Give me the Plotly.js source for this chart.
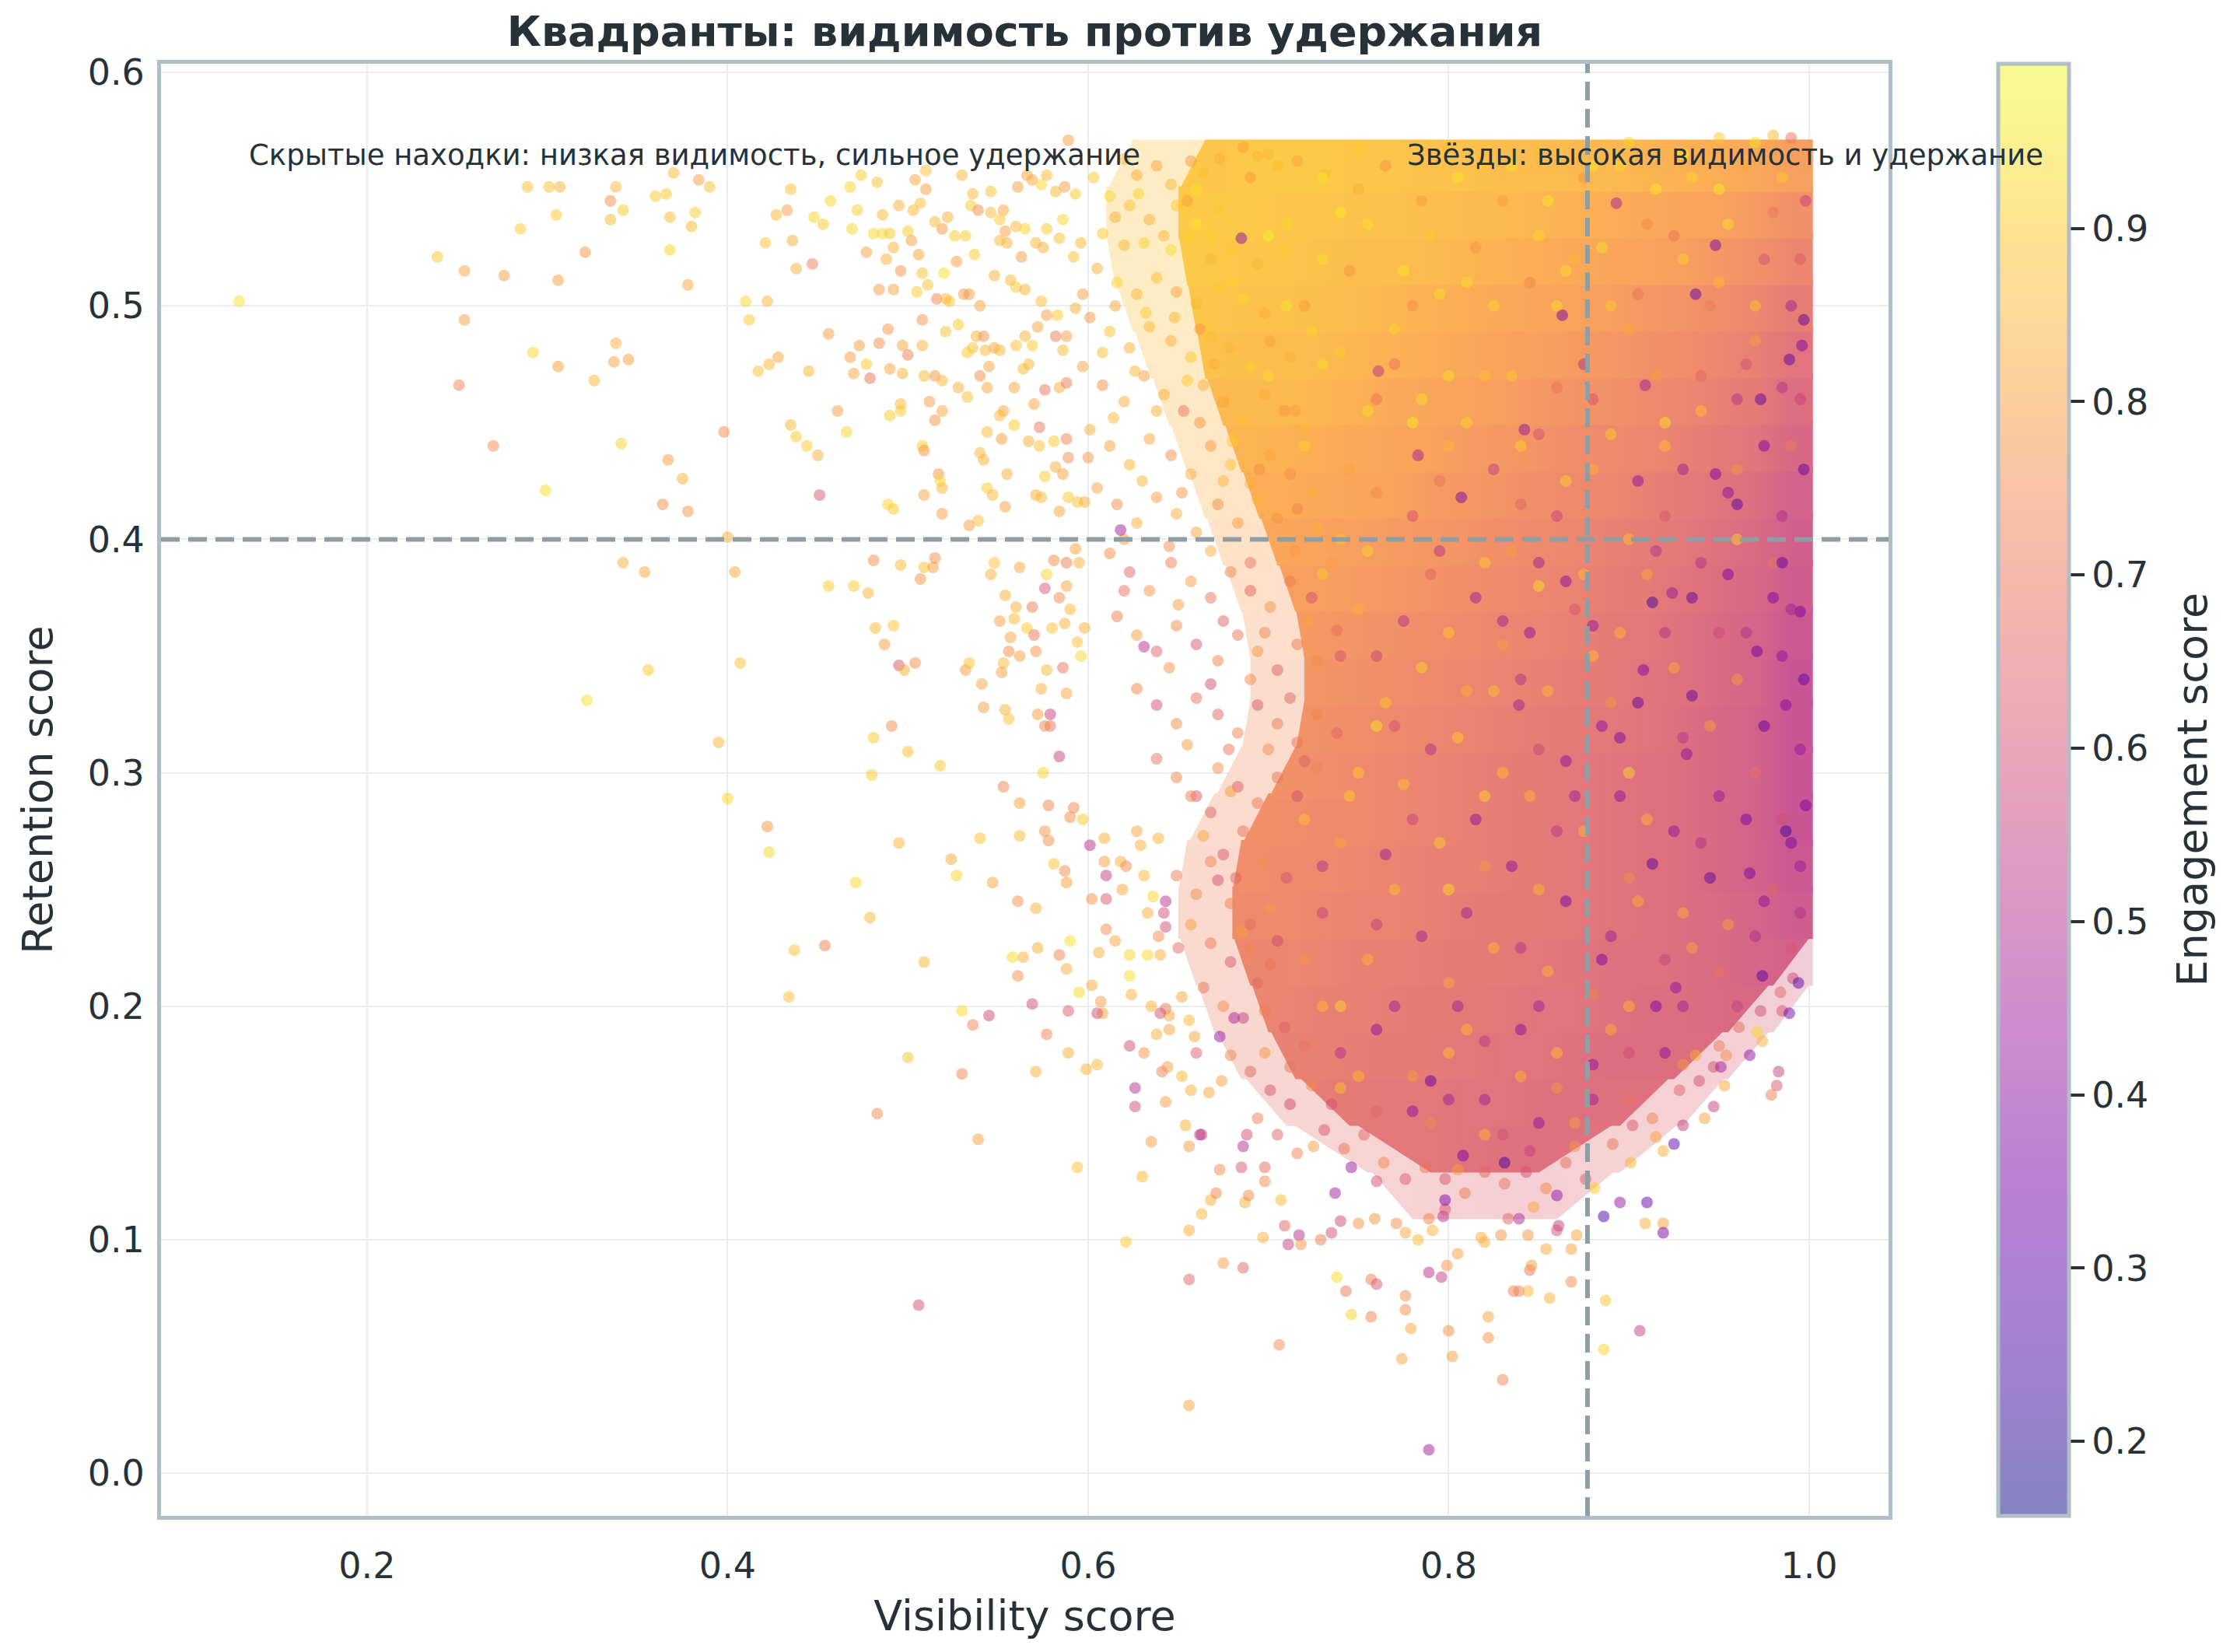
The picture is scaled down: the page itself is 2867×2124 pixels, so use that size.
<!DOCTYPE html>
<html><head><meta charset="utf-8">
<script src="https://cdn.plot.ly/plotly-3.0.1.min.js"></script>
<style>html,body{margin:0;padding:0;background:#fff}#chart{width:2867px;height:2124px}</style>
</head><body><div id="chart"></div>
<script>
// ---------- DATA ----------
const titleText = 'Квадранты: видимость против удержания';
const xTitle = 'Visibility score';
const yTitle = 'Retention score';
const cbTitle = 'Engagement score';
const noteLeft = 'Скрытые находки: низкая видимость, сильное удержание';
const noteRight = 'Звёзды: высокая видимость и удержание';
const visThreshold = 0.877;
const retThreshold = 0.4;
const xTicks = [0.2, 0.4, 0.6, 0.8, 1.0];
const xTickText = ['0.2', '0.4', '0.6', '0.8', '1.0'];
const yTicks = [0.0, 0.1, 0.2, 0.3, 0.4, 0.5, 0.6];
const yTickText = ['0.0', '0.1', '0.2', '0.3', '0.4', '0.5', '0.6'];
const cbTicks = [0.2, 0.3, 0.4, 0.5, 0.6, 0.7, 0.8, 0.9];
const cbTickText = ['0.2', '0.3', '0.4', '0.5', '0.6', '0.7', '0.8', '0.9'];
const engMin = 0.157, engMax = 0.995;

// individually visible points: [visibility, retention, engagement]
const farLeftPts = [[0.129,0.502,0.95],[0.239,0.521,0.9],[0.254,0.515,0.82],[0.276,0.513,0.8],[0.254,0.494,0.8],[0.251,0.466,0.74],[0.27,0.44,0.76],[0.289,0.551,0.88],[0.301,0.551,0.88],[0.307,0.551,0.84],[0.285,0.533,0.9],[0.305,0.539,0.9],[0.306,0.511,0.8],[0.292,0.48,0.92],[0.306,0.474,0.8],[0.321,0.523,0.78],[0.299,0.421,0.94],[0.326,0.468,0.86],[0.338,0.484,0.84],[0.337,0.476,0.82],[0.345,0.477,0.8],[0.335,0.545,0.76],[0.335,0.537,0.86],[0.342,0.541,0.9],[0.338,0.551,0.86],[0.36,0.547,0.9],[0.366,0.548,0.9],[0.368,0.538,0.86],[0.38,0.534,0.86],[0.382,0.54,0.9],[0.368,0.524,0.92],[0.37,0.557,0.86],[0.384,0.554,0.8],[0.39,0.551,0.88],[0.378,0.509,0.82],[0.341,0.441,0.92],[0.367,0.434,0.8],[0.375,0.426,0.84],[0.364,0.415,0.76],[0.378,0.412,0.78],[0.398,0.446,0.76],[0.41,0.502,0.92],[0.422,0.502,0.86],[0.412,0.494,0.9],[0.421,0.527,0.88],[0.417,0.472,0.88],[0.423,0.475,0.86],[0.428,0.478,0.82],[0.322,0.331,0.95],[0.356,0.344,0.9],[0.342,0.39,0.84],[0.354,0.386,0.82],[0.395,0.313,0.86],[0.4,0.289,0.92],[0.4,0.401,0.84],[0.404,0.386,0.82],[0.407,0.347,0.88]];

const upperFringePts = [[0.435,0.55,0.88],[0.427,0.539,0.86],[0.433,0.541,0.8],[0.436,0.528,0.84],[0.447,0.518,0.72],[0.438,0.516,0.84],[0.457,0.545,0.92],[0.448,0.538,0.92],[0.453,0.535,0.9],[0.468,0.551,0.92],[0.472,0.541,0.9],[0.474,0.556,0.9],[0.483,0.553,0.88],[0.486,0.539,0.86],[0.469,0.533,0.92],[0.481,0.531,0.92],[0.486,0.531,0.92],[0.49,0.531,0.9],[0.477,0.523,0.8],[0.488,0.52,0.84],[0.492,0.525,0.84],[0.495,0.543,0.84],[0.502,0.528,0.8],[0.504,0.554,0.82],[0.51,0.55,0.8],[0.51,0.558,0.88],[0.507,0.544,0.88],[0.503,0.541,0.86],[0.5,0.532,0.9],[0.506,0.522,0.82],[0.496,0.515,0.78],[0.484,0.507,0.8],[0.492,0.507,0.82],[0.508,0.514,0.88],[0.511,0.509,0.88],[0.52,0.514,0.95],[0.516,0.503,0.75],[0.527,0.519,0.8],[0.522,0.538,0.84],[0.519,0.533,0.78],[0.515,0.536,0.86],[0.526,0.53,0.9],[0.532,0.53,0.9],[0.53,0.556,0.86],[0.536,0.548,0.86],[0.535,0.543,0.9],[0.539,0.541,0.76],[0.546,0.549,0.88],[0.546,0.54,0.86],[0.553,0.541,0.82],[0.537,0.522,0.9],[0.551,0.537,0.9],[0.554,0.532,0.8],[0.551,0.528,0.86],[0.555,0.527,0.84],[0.56,0.534,0.86],[0.565,0.533,0.92],[0.563,0.521,0.8],[0.548,0.513,0.84],[0.557,0.511,0.86],[0.534,0.505,0.8],[0.531,0.505,0.78],[0.54,0.5,0.82],[0.523,0.502,0.88],[0.505,0.506,0.9],[0.521,0.503,0.86],[0.528,0.492,0.9],[0.521,0.489,0.88],[0.508,0.494,0.78],[0.489,0.49,0.78],[0.456,0.488,0.8],[0.473,0.483,0.8],[0.484,0.484,0.76],[0.497,0.483,0.82],[0.508,0.483,0.84],[0.5,0.479,0.72],[0.538,0.487,0.84],[0.542,0.487,0.78],[0.536,0.482,0.88],[0.533,0.48,0.9],[0.543,0.481,0.86],[0.548,0.482,0.82],[0.445,0.472,0.86],[0.468,0.478,0.8],[0.477,0.475,0.9],[0.49,0.473,0.82],[0.497,0.471,0.84],[0.509,0.47,0.86],[0.515,0.47,0.78],[0.519,0.468,0.86],[0.479,0.469,0.7],[0.47,0.471,0.82],[0.528,0.465,0.84],[0.54,0.47,0.76],[0.544,0.465,0.82],[0.545,0.474,0.82],[0.533,0.461,0.88],[0.461,0.455,0.8],[0.435,0.449,0.86],[0.438,0.444,0.9],[0.444,0.44,0.9],[0.45,0.436,0.84],[0.466,0.446,0.92],[0.49,0.453,0.9],[0.496,0.458,0.86],[0.496,0.455,0.9],[0.512,0.459,0.8],[0.519,0.455,0.82],[0.515,0.451,0.78],[0.566,0.556,0.82],[0.561,0.551,0.8],[0.569,0.554,0.82],[0.574,0.552,0.92],[0.577,0.556,0.86],[0.582,0.549,0.86],[0.587,0.551,0.8],[0.589,0.571,0.8],[0.593,0.548,0.9],[0.586,0.537,0.92],[0.577,0.533,0.9],[0.571,0.527,0.86],[0.575,0.525,0.84],[0.584,0.529,0.88],[0.592,0.521,0.88],[0.596,0.527,0.86],[0.56,0.508,0.9],[0.565,0.507,0.84],[0.574,0.502,0.88],[0.577,0.496,0.8],[0.583,0.496,0.9],[0.572,0.491,0.82],[0.565,0.487,0.84],[0.569,0.483,0.9],[0.56,0.483,0.88],[0.551,0.481,0.86],[0.582,0.487,0.72],[0.588,0.487,0.8],[0.586,0.481,0.86],[0.593,0.499,0.84],[0.597,0.505,0.8],[0.567,0.475,0.86],[0.564,0.473,0.86],[0.559,0.465,0.82],[0.553,0.455,0.82],[0.559,0.449,0.9],[0.576,0.464,0.7],[0.584,0.465,0.84],[0.588,0.467,0.72],[0.57,0.458,0.82],[0.573,0.448,0.7],[0.567,0.442,0.84],[0.573,0.44,0.88],[0.581,0.442,0.9],[0.588,0.443,0.74],[0.589,0.435,0.76],[0.586,0.428,0.8],[0.582,0.431,0.84],[0.576,0.427,0.9],[0.571,0.419,0.84],[0.574,0.418,0.86],[0.584,0.412,0.82],[0.589,0.418,0.9],[0.594,0.416,0.88],[0.598,0.416,0.84],[0.555,0.428,0.84],[0.554,0.414,0.8],[0.547,0.419,0.86],[0.544,0.422,0.9],[0.539,0.408,0.88],[0.534,0.406,0.8],[0.519,0.411,0.8],[0.509,0.419,0.82],[0.508,0.44,0.9],[0.509,0.438,0.78],[0.517,0.428,0.78],[0.518,0.425,0.92],[0.519,0.422,0.86],[0.451,0.419,0.62],[0.489,0.415,0.92],[0.492,0.413,0.9],[0.54,0.437,0.86],[0.542,0.434,0.84],[0.544,0.446,0.86],[0.551,0.453,0.86],[0.552,0.443,0.8]];

const midLowerPts = [[0.456,0.38,0.9],[0.47,0.38,0.9],[0.478,0.377,0.86],[0.481,0.391,0.76],[0.496,0.389,0.86],[0.509,0.388,0.88],[0.514,0.388,0.8],[0.515,0.392,0.76],[0.507,0.383,0.78],[0.482,0.362,0.86],[0.492,0.363,0.88],[0.487,0.355,0.8],[0.495,0.346,0.62],[0.498,0.344,0.84],[0.504,0.347,0.76],[0.541,0.338,0.82],[0.542,0.328,0.8],[0.491,0.32,0.76],[0.481,0.315,0.9],[0.48,0.299,0.9],[0.5,0.309,0.88],[0.518,0.303,0.9],[0.532,0.344,0.8],[0.534,0.347,0.88],[0.551,0.365,0.8],[0.554,0.376,0.84],[0.548,0.39,0.88],[0.546,0.385,0.84],[0.562,0.388,0.82],[0.577,0.385,0.92],[0.56,0.371,0.84],[0.569,0.371,0.72],[0.576,0.379,0.62],[0.559,0.366,0.86],[0.566,0.362,0.9],[0.57,0.359,0.7],[0.557,0.358,0.82],[0.556,0.352,0.76],[0.562,0.35,0.8],[0.571,0.352,0.78],[0.553,0.347,0.86],[0.552,0.343,0.8],[0.577,0.344,0.86],[0.586,0.345,0.7],[0.588,0.334,0.82],[0.574,0.336,0.84],[0.579,0.325,0.55],[0.572,0.325,0.8],[0.579,0.32,0.7],[0.576,0.32,0.74],[0.554,0.327,0.84],[0.556,0.323,0.88],[0.584,0.307,0.56],[0.575,0.3,0.92],[0.58,0.362,0.88],[0.587,0.364,0.84],[0.584,0.375,0.76],[0.588,0.38,0.82],[0.581,0.391,0.76],[0.588,0.39,0.72],[0.593,0.396,0.8],[0.595,0.39,0.84],[0.59,0.37,0.86],[0.594,0.356,0.88],[0.598,0.362,0.84],[0.596,0.35,0.92],[0.422,0.277,0.78],[0.423,0.266,0.92],[0.471,0.253,0.92],[0.479,0.238,0.86],[0.495,0.27,0.86],[0.437,0.224,0.88],[0.454,0.226,0.72],[0.434,0.204,0.88],[0.509,0.219,0.86],[0.524,0.263,0.82],[0.527,0.256,0.92],[0.54,0.272,0.88],[0.547,0.253,0.82],[0.553,0.294,0.74],[0.562,0.287,0.82],[0.562,0.273,0.86],[0.561,0.245,0.76],[0.571,0.242,0.84],[0.578,0.286,0.74],[0.576,0.275,0.78],[0.578,0.271,0.76],[0.592,0.285,0.74],[0.59,0.281,0.76],[0.597,0.28,0.9],[0.581,0.261,0.88],[0.587,0.258,0.76],[0.588,0.253,0.8],[0.558,0.221,0.94],[0.564,0.221,0.84],[0.572,0.225,0.84],[0.584,0.222,0.74],[0.588,0.216,0.84],[0.59,0.228,0.95],[0.561,0.213,0.76],[0.595,0.206,0.92],[0.53,0.198,0.94],[0.536,0.192,0.74],[0.545,0.196,0.58],[0.569,0.201,0.6],[0.577,0.188,0.74],[0.589,0.198,0.64],[0.5,0.178,0.88],[0.53,0.171,0.74],[0.571,0.172,0.84],[0.589,0.18,0.84],[0.599,0.173,0.84],[0.483,0.154,0.76],[0.539,0.143,0.8],[0.594,0.131,0.88],[0.506,0.072,0.6]];

const lowerFringePts = [[0.621,0.099,0.9],[0.63,0.127,0.86],[0.656,0.083,0.66],[0.656,0.029,0.82],[0.706,0.055,0.76],[0.675,0.09,0.8],[0.686,0.088,0.66],[0.656,0.104,0.84],[0.663,0.111,0.86],[0.668,0.117,0.84],[0.671,0.12,0.74],[0.673,0.13,0.76],[0.685,0.131,0.62],[0.687,0.116,0.84],[0.689,0.119,0.76],[0.697,0.101,0.84],[0.709,0.106,0.66],[0.711,0.098,0.56],[0.717,0.102,0.5],[0.707,0.117,0.86],[0.698,0.125,0.76],[0.698,0.131,0.68],[0.656,0.14,0.8],[0.663,0.145,0.6],[0.654,0.149,0.84],[0.635,0.142,0.8],[0.626,0.157,0.6],[0.643,0.159,0.8],[0.623,0.183,0.6],[0.631,0.18,0.78],[0.641,0.172,0.72],[0.644,0.174,0.8],[0.652,0.17,0.86],[0.657,0.164,0.84],[0.667,0.163,0.82],[0.674,0.168,0.8],[0.605,0.175,0.86],[0.615,0.228,0.82],[0.606,0.223,0.84],[0.623,0.222,0.92],[0.623,0.213,0.94],[0.624,0.205,0.84],[0.607,0.202,0.8],[0.608,0.197,0.8],[0.605,0.197,0.6],[0.602,0.209,0.82],[0.61,0.233,0.76],[0.602,0.246,0.78],[0.61,0.246,0.62],[0.619,0.25,0.82],[0.618,0.262,0.84],[0.609,0.262,0.8],[0.609,0.272,0.84],[0.621,0.26,0.76],[0.631,0.256,0.86],[0.627,0.275,0.82],[0.629,0.269,0.84],[0.639,0.272,0.84],[0.636,0.247,0.92],[0.633,0.24,0.84],[0.642,0.24,0.6],[0.643,0.234,0.6],[0.639,0.23,0.76],[0.633,0.222,0.92],[0.64,0.222,0.84],[0.643,0.199,0.72],[0.645,0.196,0.82],[0.64,0.197,0.6],[0.645,0.19,0.82],[0.635,0.2,0.84],[0.638,0.188,0.84],[0.652,0.204,0.82],[0.656,0.194,0.86],[0.659,0.187,0.82],[0.738,0.084,0.94],[0.743,0.078,0.7],[0.757,0.083,0.72],[0.76,0.081,0.62],[0.746,0.068,0.92],[0.757,0.067,0.74],[0.776,0.076,0.76],[0.776,0.07,0.76],[0.779,0.062,0.82],[0.774,0.049,0.82],[0.802,0.05,0.8],[0.8,0.061,0.76],[0.805,0.094,0.8],[0.799,0.089,0.78],[0.822,0.067,0.82],[0.822,0.058,0.78],[0.83,0.04,0.74],[0.836,0.078,0.72],[0.839,0.078,0.74],[0.844,0.078,0.86],[0.845,0.087,0.7],[0.846,0.089,0.8],[0.856,0.075,0.84],[0.854,0.096,0.82],[0.868,0.096,0.8],[0.868,0.082,0.76],[0.871,0.102,0.82],[0.886,0.053,0.92],[0.887,0.074,0.88],[0.906,0.061,0.55],[0.909,0.107,0.84],[0.919,0.107,0.8],[0.881,0.122,0.9],[0.901,0.133,0.86],[0.915,0.144,0.82],[0.919,0.138,0.84],[0.942,0.152,0.8],[0.953,0.166,0.82],[0.979,0.162,0.72],[0.982,0.166,0.62],[0.974,0.185,0.84],[0.971,0.189,0.92],[0.985,0.198,0.62],[0.937,0.179,0.84],[0.947,0.174,0.6],[0.954,0.179,0.76],[0.861,0.106,0.56],[0.86,0.104,0.6],[0.844,0.102,0.78],[0.818,0.101,0.84],[0.829,0.102,0.78],[0.82,0.099,0.84],[0.833,0.109,0.66],[0.839,0.109,0.48],[0.847,0.114,0.82],[0.797,0.11,0.52],[0.798,0.113,0.62],[0.791,0.104,0.84],[0.783,0.1,0.86],[0.776,0.103,0.82],[0.789,0.109,0.74],[0.771,0.107,0.76],[0.759,0.109,0.78],[0.75,0.107,0.78],[0.74,0.108,0.58],[0.729,0.1,0.72],[0.718,0.098,0.78],[0.789,0.01,0.45],[0.886,0.11,0.25],[0.91,0.116,0.3],[0.919,0.103,0.35],[0.925,0.141,0.3],[0.831,0.133,0.25],[0.808,0.136,0.35],[0.798,0.117,0.35],[0.86,0.119,0.4],[0.895,0.116,0.42],[0.951,0.174,0.45],[0.947,0.157,0.55],[0.967,0.179,0.4],[0.93,0.149,0.55],[0.983,0.172,0.55],[0.789,0.086,0.5],[0.796,0.084,0.55],[0.746,0.131,0.42],[0.737,0.12,0.45],[0.735,0.103,0.6],[0.686,0.14,0.5],[0.688,0.145,0.6],[0.673,0.187,0.42],[0.662,0.145,0.5],[0.626,0.165,0.5],[0.601,0.269,0.5],[0.61,0.256,0.55],[0.643,0.245,0.5],[0.681,0.195,0.45]];

const edgeBandPts = [[0.62,0.563,0.86],[0.627,0.556,0.84],[0.638,0.56,0.82],[0.646,0.552,0.86],[0.657,0.562,0.8],[0.664,0.557,0.88],[0.673,0.563,0.84],[0.686,0.568,0.82],[0.694,0.564,0.86],[0.705,0.56,0.88],[0.716,0.562,0.82],[0.731,0.556,0.86],[0.612,0.547,0.92],[0.623,0.543,0.88],[0.634,0.537,0.84],[0.649,0.543,0.9],[0.66,0.535,0.96],[0.672,0.541,0.9],[0.608,0.531,0.9],[0.62,0.526,0.86],[0.631,0.527,0.92],[0.646,0.524,0.94],[0.657,0.529,0.92],[0.668,0.52,0.86],[0.679,0.524,0.9],[0.694,0.518,0.86],[0.709,0.524,0.9],[0.605,0.516,0.84],[0.616,0.51,0.92],[0.627,0.505,0.86],[0.638,0.512,0.88],[0.649,0.506,0.82],[0.66,0.501,0.86],[0.673,0.508,0.9],[0.686,0.503,0.94],[0.698,0.497,0.84],[0.601,0.495,0.78],[0.612,0.489,0.88],[0.623,0.482,0.84],[0.634,0.491,0.86],[0.646,0.485,0.84],[0.657,0.478,0.9],[0.668,0.487,0.88],[0.679,0.482,0.86],[0.69,0.474,0.92],[0.701,0.485,0.82],[0.712,0.478,0.84],[0.724,0.489,0.92],[0.597,0.474,0.82],[0.608,0.466,0.76],[0.62,0.459,0.84],[0.631,0.47,0.8],[0.642,0.462,0.84],[0.653,0.455,0.7],[0.664,0.466,0.84],[0.675,0.459,0.82],[0.686,0.451,0.88],[0.698,0.462,0.84],[0.709,0.455,0.78],[0.72,0.447,0.86],[0.601,0.447,0.84],[0.612,0.44,0.8],[0.623,0.432,0.86],[0.634,0.443,0.82],[0.646,0.436,0.76],[0.657,0.428,0.84],[0.668,0.44,0.8],[0.679,0.432,0.88],[0.69,0.424,0.84],[0.701,0.436,0.82],[0.712,0.428,0.76],[0.724,0.42,0.84],[0.605,0.422,0.82],[0.616,0.415,0.76],[0.627,0.407,0.84],[0.638,0.418,0.8],[0.649,0.411,0.84],[0.66,0.403,0.82],[0.672,0.415,0.76],[0.683,0.407,0.8],[0.694,0.417,0.86],[0.705,0.409,0.78],[0.716,0.413,0.74],[0.727,0.405,0.84],[0.612,0.394,0.76],[0.623,0.386,0.66],[0.634,0.378,0.78],[0.646,0.39,0.72],[0.657,0.382,0.8],[0.668,0.375,0.7],[0.679,0.386,0.74],[0.69,0.378,0.66],[0.701,0.371,0.78],[0.712,0.382,0.72],[0.724,0.375,0.6],[0.735,0.39,0.8],[0.616,0.367,0.72],[0.627,0.359,0.8],[0.638,0.352,0.66],[0.649,0.363,0.76],[0.66,0.355,0.62],[0.672,0.348,0.74],[0.683,0.359,0.7],[0.694,0.352,0.78],[0.705,0.344,0.64],[0.716,0.355,0.72],[0.727,0.348,0.76],[0.738,0.361,0.68],[0.627,0.336,0.74],[0.638,0.329,0.6],[0.649,0.321,0.76],[0.66,0.332,0.7],[0.672,0.325,0.66],[0.683,0.317,0.74],[0.694,0.329,0.62],[0.705,0.321,0.72],[0.716,0.313,0.7],[0.727,0.325,0.74],[0.738,0.317,0.66],[0.638,0.306,0.7],[0.649,0.298,0.74],[0.66,0.29,0.62],[0.672,0.302,0.76],[0.683,0.294,0.64],[0.694,0.287,0.72],[0.705,0.298,0.7],[0.716,0.29,0.6],[0.727,0.302,0.74],[0.657,0.29,0.74],[0.668,0.283,0.66],[0.679,0.292,0.8],[0.664,0.273,0.82],[0.675,0.265,0.62],[0.686,0.275,0.7],[0.649,0.256,0.72],[0.66,0.248,0.76],[0.672,0.254,0.6],[0.679,0.244,0.74],[0.69,0.235,0.68],[0.701,0.242,0.78],[0.657,0.235,0.8],[0.668,0.227,0.72],[0.679,0.219,0.62],[0.69,0.225,0.74],[0.701,0.218,0.7],[0.694,0.21,0.66],[0.664,0.208,0.7],[0.675,0.2,0.76],[0.686,0.195,0.56],[0.698,0.198,0.72],[0.709,0.191,0.64],[0.72,0.183,0.7],[0.679,0.179,0.74],[0.69,0.172,0.66],[0.701,0.164,0.62],[0.712,0.174,0.7],[0.724,0.166,0.76],[0.735,0.158,0.6],[0.694,0.152,0.72],[0.705,0.145,0.66],[0.716,0.137,0.74],[0.731,0.147,0.62],[0.742,0.139,0.7],[0.753,0.145,0.66],[0.764,0.133,0.74],[0.776,0.126,0.64],[0.787,0.131,0.7],[0.798,0.126,0.62],[0.809,0.12,0.72],[0.82,0.129,0.66],[0.831,0.124,0.7],[0.843,0.129,0.6],[0.854,0.122,0.74],[0.865,0.133,0.68],[0.876,0.126,0.64],[0.891,0.141,0.7],[0.902,0.149,0.62],[0.913,0.152,0.74],[0.928,0.164,0.66],[0.939,0.168,0.6],[0.95,0.183,0.72],[0.961,0.191,0.68],[0.973,0.198,0.6],[0.984,0.206,0.66],[0.991,0.212,0.58],[0.603,0.555,0.9],[0.615,0.538,0.84],[0.628,0.548,0.92],[0.642,0.53,0.86],[0.655,0.545,0.82],[0.668,0.53,0.92],[0.615,0.5,0.82],[0.632,0.497,0.9],[0.648,0.495,0.86],[0.662,0.49,0.8],[0.608,0.48,0.88],[0.626,0.472,0.86],[0.655,0.468,0.9],[0.67,0.475,0.84],[0.614,0.452,0.86],[0.638,0.455,0.84],[0.662,0.45,0.78],[0.68,0.442,0.9],[0.6,0.435,0.78],[0.63,0.425,0.86],[0.652,0.42,0.78],[0.675,0.425,0.86],[0.695,0.43,0.76],[0.62,0.4,0.8],[0.645,0.397,0.76],[0.668,0.395,0.84],[0.69,0.39,0.7],[0.715,0.395,0.8],[0.62,0.378,0.7],[0.65,0.372,0.8],[0.675,0.365,0.66],[0.698,0.36,0.74],[0.722,0.365,0.82],[0.645,0.345,0.78],[0.668,0.338,0.6],[0.69,0.34,0.76],[0.712,0.332,0.66],[0.655,0.312,0.8],[0.678,0.31,0.7],[0.7,0.31,0.76],[0.72,0.305,0.64],[0.668,0.262,0.74],[0.682,0.255,0.66],[0.697,0.262,0.76],[0.71,0.255,0.6],[0.65,0.225,0.68],[0.685,0.232,0.8],[0.705,0.228,0.58],[0.66,0.18,0.64],[0.698,0.18,0.78],[0.712,0.158,0.58],[0.725,0.14,0.8],[0.76,0.125,0.6],[0.805,0.13,0.8],[0.845,0.138,0.56],[0.87,0.14,0.78],[0.9,0.16,0.7],[0.93,0.175,0.78],[0.96,0.2,0.55],[0.99,0.225,0.62],[0.995,0.24,0.5]];

const densePts = [[0.685,0.529,0.4],[0.948,0.526,0.35],[0.893,0.544,0.45],[0.937,0.505,0.3],[0.997,0.494,0.3],[0.973,0.46,0.3],[0.996,0.483,0.35],[0.989,0.477,0.3],[0.863,0.496,0.35],[0.807,0.418,0.35],[0.913,0.373,0.25],[0.98,0.375,0.35],[0.96,0.415,0.3],[0.935,0.333,0.3],[0.995,0.369,0.35],[0.895,0.315,0.35],[0.83,0.365,0.45],[0.631,0.354,0.5],[0.618,0.404,0.45],[0.865,0.382,0.38],[0.924,0.377,0.42],[0.971,0.352,0.32],[0.987,0.329,0.38],[0.932,0.308,0.4],[0.908,0.344,0.36],[0.88,0.363,0.42],[0.839,0.329,0.45],[0.85,0.39,0.45],[0.783,0.436,0.45],[0.761,0.472,0.5],[0.842,0.447,0.42],[0.948,0.428,0.35],[0.909,0.466,0.45],[0.79,0.168,0.3],[0.994,0.21,0.3],[0.989,0.197,0.35],[0.974,0.213,0.3],[0.926,0.208,0.4],[0.987,0.275,0.25],[0.967,0.257,0.35],[0.913,0.261,0.3],[0.998,0.286,0.35],[0.76,0.32,0.95],[0.8,0.25,0.93],[0.85,0.38,0.95],[0.92,0.45,0.95],[0.95,0.55,0.97],[0.88,0.56,0.96],[0.82,0.29,0.92],[0.74,0.2,0.93],[0.9,0.3,0.94],[0.96,0.4,0.92],[0.78,0.45,0.97],[0.71,0.5,0.97],[0.7,0.53,0.98],[0.74,0.54,0.97],[0.93,0.565,0.98],[0.97,0.57,0.95],[0.86,0.5,0.94],[0.75,0.55,0.84],[0.79,0.53,0.9],[0.83,0.545,0.8],[0.87,0.52,0.86],[0.91,0.535,0.76],[0.95,0.51,0.86],[0.98,0.54,0.7],[0.995,0.52,0.62],[0.74,0.48,0.9],[0.78,0.5,0.76],[0.82,0.47,0.88],[0.86,0.465,0.7],[0.9,0.49,0.82],[0.94,0.47,0.66],[0.97,0.485,0.8],[0.995,0.46,0.55],[0.76,0.42,0.76],[0.8,0.44,0.86],[0.84,0.415,0.66],[0.88,0.43,0.84],[0.92,0.41,0.62],[0.96,0.43,0.78],[0.985,0.41,0.5],[0.75,0.37,0.84],[0.79,0.385,0.66],[0.83,0.355,0.8],[0.87,0.37,0.62],[0.91,0.385,0.82],[0.95,0.36,0.58],[0.99,0.37,0.46],[0.77,0.32,0.6],[0.81,0.335,0.84],[0.85,0.31,0.56],[0.89,0.33,0.78],[0.93,0.315,0.52],[0.97,0.3,0.7],[0.995,0.31,0.42],[0.74,0.27,0.82],[0.78,0.28,0.56],[0.82,0.26,0.78],[0.86,0.275,0.52],[0.9,0.255,0.76],[0.94,0.27,0.5],[0.98,0.25,0.66],[0.995,0.26,0.44],[0.72,0.22,0.78],[0.76,0.235,0.54],[0.8,0.21,0.82],[0.84,0.225,0.5],[0.88,0.205,0.74],[0.92,0.22,0.56],[0.95,0.215,0.7],[0.74,0.18,0.5],[0.78,0.17,0.8],[0.82,0.185,0.52],[0.86,0.165,0.78],[0.9,0.18,0.58],[0.79,0.15,0.76],[0.83,0.145,0.6],[0.87,0.15,0.8],[0.76,0.155,0.66],[0.75,0.567,0.9],[0.8,0.568,0.88],[0.85,0.566,0.86],[0.9,0.57,0.92],[0.95,0.572,0.9],[0.98,0.573,0.86],[0.7,0.565,0.86],[0.99,0.572,0.7],[0.73,0.52,0.95],[0.77,0.49,0.92],[0.81,0.51,0.95],[0.85,0.53,0.93],[0.89,0.5,0.9],[0.93,0.52,0.92],[0.97,0.5,0.88],[0.72,0.44,0.92],[0.76,0.46,0.7],[0.8,0.47,0.94],[0.84,0.44,0.92],[0.88,0.46,0.6],[0.92,0.44,0.88],[0.96,0.46,0.5],[0.99,0.44,0.72],[0.74,0.4,0.9],[0.78,0.41,0.6],[0.82,0.39,0.9],[0.86,0.41,0.55],[0.9,0.4,0.88],[0.94,0.39,0.5],[0.98,0.39,0.7],[0.76,0.35,0.56],[0.8,0.36,0.9],[0.84,0.34,0.5],[0.88,0.35,0.88],[0.92,0.36,0.5],[0.96,0.34,0.8],[0.985,0.35,0.4],[0.75,0.3,0.9],[0.79,0.31,0.5],[0.83,0.3,0.88],[0.87,0.29,0.45],[0.91,0.28,0.86],[0.95,0.29,0.42],[0.985,0.28,0.6],[0.73,0.24,0.55],[0.77,0.25,0.88],[0.81,0.24,0.45],[0.85,0.25,0.86],[0.89,0.23,0.45],[0.93,0.24,0.84],[0.97,0.23,0.5],[0.73,0.2,0.86],[0.77,0.2,0.45],[0.81,0.19,0.86],[0.85,0.2,0.45],[0.89,0.19,0.84],[0.93,0.2,0.45],[0.75,0.17,0.86],[0.8,0.16,0.45],[0.84,0.17,0.86],[0.88,0.16,0.45]];

const speckleTopPts = [[0.66,0.55,0.95],[0.68,0.51,0.92],[0.69,0.555,0.8],[0.71,0.535,0.93],[0.72,0.5,0.8],[0.73,0.555,0.96],[0.745,0.515,0.78],[0.755,0.535,0.95],[0.765,0.56,0.78],[0.775,0.515,0.96],[0.785,0.545,0.8],[0.795,0.505,0.94],[0.805,0.555,0.96],[0.815,0.525,0.78],[0.825,0.5,0.92],[0.835,0.56,0.95],[0.845,0.51,0.74],[0.855,0.545,0.96],[0.865,0.515,0.94],[0.875,0.555,0.78],[0.885,0.525,0.95],[0.895,0.56,0.93],[0.905,0.505,0.7],[0.915,0.55,0.96],[0.925,0.53,0.7],[0.935,0.555,0.92],[0.945,0.5,0.72],[0.955,0.535,0.94],[0.965,0.56,0.82],[0.975,0.52,0.6],[0.985,0.555,0.9],[0.99,0.5,0.45],[0.998,0.545,0.55],[0.7,0.47,0.94],[0.715,0.455,0.8],[0.73,0.475,0.95],[0.745,0.43,0.82],[0.755,0.455,0.94],[0.77,0.475,0.7],[0.785,0.46,0.95],[0.795,0.425,0.7],[0.81,0.45,0.92],[0.825,0.43,0.55],[0.835,0.47,0.9],[0.85,0.445,0.6],[0.865,0.425,0.92],[0.875,0.475,0.5],[0.89,0.445,0.9],[0.905,0.425,0.4],[0.915,0.47,0.8],[0.93,0.43,0.45],[0.94,0.455,0.88],[0.955,0.42,0.4],[0.965,0.475,0.6],[0.975,0.44,0.35],[0.985,0.465,0.5],[0.997,0.43,0.3]];

const speckleLowPts = [[0.73,0.385,0.9],[0.74,0.35,0.6],[0.755,0.395,0.92],[0.765,0.33,0.88],[0.775,0.365,0.5],[0.785,0.345,0.92],[0.795,0.395,0.5],[0.805,0.315,0.9],[0.815,0.375,0.45],[0.825,0.335,0.88],[0.835,0.395,0.8],[0.845,0.36,0.4],[0.855,0.335,0.86],[0.865,0.305,0.4],[0.875,0.385,0.88],[0.885,0.32,0.4],[0.895,0.36,0.86],[0.905,0.33,0.3],[0.915,0.395,0.5],[0.925,0.345,0.84],[0.935,0.375,0.3],[0.945,0.32,0.8],[0.955,0.385,0.35],[0.965,0.36,0.5],[0.975,0.32,0.3],[0.985,0.39,0.3],[0.997,0.34,0.3],[0.72,0.28,0.88],[0.73,0.26,0.5],[0.745,0.29,0.9],[0.755,0.22,0.86],[0.765,0.265,0.45],[0.775,0.295,0.88],[0.785,0.23,0.45],[0.795,0.27,0.9],[0.805,0.2,0.45],[0.815,0.28,0.4],[0.825,0.225,0.86],[0.835,0.26,0.4],[0.845,0.29,0.86],[0.855,0.215,0.86],[0.865,0.245,0.35],[0.875,0.275,0.86],[0.885,0.22,0.35],[0.895,0.29,0.4],[0.905,0.245,0.84],[0.915,0.2,0.35],[0.925,0.275,0.4],[0.935,0.225,0.82],[0.945,0.255,0.3],[0.955,0.235,0.8],[0.965,0.28,0.35],[0.975,0.245,0.4],[0.99,0.27,0.35],[0.74,0.165,0.88],[0.76,0.19,0.4],[0.78,0.155,0.4],[0.8,0.18,0.88],[0.82,0.16,0.45],[0.84,0.19,0.4],[0.86,0.18,0.88],[0.88,0.175,0.4],[0.9,0.2,0.86],[0.92,0.18,0.4],[0.82,0.145,0.86],[0.85,0.15,0.4]];

// overlapping mass of points: outline (per retention level, null = no mass) and mean engagement field
const massRet   = [0.11,0.13,0.15,0.17,0.19,0.21,0.23,0.25,0.27,0.29,0.31,0.33,0.35,0.37,0.39,0.41,0.43,0.45,0.47,0.49,0.51,0.53,0.55,0.57];
const coreLeft  = [null,0.79,0.745,0.715,0.70,0.69,0.68,0.68,0.685,0.70,0.715,0.72,0.72,0.715,0.705,0.695,0.685,0.675,0.665,0.66,0.655,0.65,0.65,0.665];
const coreRight = [null,0.85,0.895,0.925,0.955,0.98,1.002,1.002,1.002,1.002,1.002,1.002,1.002,1.002,1.002,1.002,1.002,1.002,1.002,1.002,1.002,1.002,1.002,1.002];
const haloLeft  = [0.78,0.755,0.71,0.685,0.67,0.66,0.65,0.65,0.655,0.67,0.685,0.69,0.69,0.685,0.675,0.665,0.655,0.645,0.635,0.625,0.615,0.61,0.61,0.625];
const haloRight = [0.86,0.895,0.93,0.955,0.98,1.002,1.002,1.002,1.002,1.002,1.002,1.002,1.002,1.002,1.002,1.002,1.002,1.002,1.002,1.002,1.002,1.002,1.002,1.002];
const fieldVis  = [0.59,0.61,0.63,0.65,0.67,0.69,0.71,0.73,0.75,0.77,0.79,0.81,0.83,0.85,0.87,0.89,0.91,0.93,0.95,0.97,0.99];
// one row per band between consecutive massRet levels (centres 0.12 ... 0.56)
const fieldEng = [
 [0.68,0.68,0.68,0.68,0.68,0.67,0.67,0.66,0.66,0.65,0.64,0.63,0.62,0.62,0.63,0.64,0.64,0.64,0.64,0.64,0.64],
 [0.69,0.69,0.69,0.69,0.68,0.68,0.67,0.67,0.66,0.65,0.65,0.64,0.63,0.63,0.63,0.64,0.64,0.64,0.64,0.64,0.64],
 [0.7,0.7,0.7,0.69,0.69,0.68,0.68,0.67,0.66,0.65,0.65,0.64,0.64,0.63,0.63,0.63,0.63,0.63,0.63,0.63,0.63],
 [0.71,0.71,0.7,0.7,0.69,0.69,0.68,0.68,0.67,0.66,0.66,0.65,0.64,0.64,0.63,0.62,0.62,0.62,0.62,0.62,0.62],
 [0.72,0.72,0.71,0.71,0.7,0.7,0.69,0.68,0.68,0.67,0.66,0.66,0.65,0.64,0.64,0.63,0.62,0.62,0.61,0.6,0.6],
 [0.73,0.73,0.72,0.72,0.71,0.7,0.7,0.69,0.68,0.68,0.67,0.66,0.66,0.65,0.64,0.63,0.63,0.62,0.61,0.59,0.58],
 [0.74,0.74,0.73,0.72,0.72,0.71,0.71,0.7,0.69,0.69,0.68,0.67,0.66,0.66,0.65,0.64,0.63,0.62,0.61,0.59,0.56],
 [0.75,0.74,0.74,0.73,0.72,0.72,0.71,0.71,0.7,0.69,0.68,0.68,0.67,0.66,0.65,0.64,0.63,0.62,0.6,0.58,0.55],
 [0.76,0.75,0.75,0.74,0.73,0.73,0.72,0.71,0.71,0.7,0.69,0.68,0.67,0.66,0.65,0.64,0.63,0.62,0.6,0.58,0.54],
 [0.77,0.76,0.76,0.75,0.74,0.73,0.73,0.72,0.71,0.7,0.69,0.68,0.67,0.66,0.65,0.64,0.63,0.62,0.6,0.58,0.54],
 [0.78,0.77,0.77,0.76,0.75,0.74,0.74,0.73,0.72,0.71,0.7,0.69,0.68,0.67,0.66,0.65,0.64,0.62,0.6,0.58,0.54],
 [0.79,0.78,0.78,0.77,0.76,0.75,0.75,0.74,0.73,0.72,0.71,0.7,0.69,0.68,0.67,0.66,0.64,0.63,0.61,0.59,0.54],
 [0.8,0.79,0.79,0.78,0.77,0.76,0.76,0.75,0.74,0.73,0.72,0.71,0.7,0.69,0.68,0.66,0.65,0.63,0.61,0.59,0.55],
 [0.81,0.8,0.8,0.79,0.78,0.78,0.77,0.77,0.76,0.75,0.74,0.72,0.71,0.7,0.69,0.67,0.66,0.64,0.62,0.6,0.56],
 [0.82,0.82,0.81,0.81,0.8,0.8,0.79,0.78,0.77,0.76,0.75,0.74,0.72,0.71,0.7,0.68,0.67,0.65,0.63,0.61,0.57],
 [0.83,0.83,0.83,0.82,0.82,0.81,0.81,0.8,0.79,0.78,0.76,0.75,0.74,0.72,0.71,0.7,0.68,0.66,0.64,0.62,0.58],
 [0.85,0.85,0.84,0.84,0.83,0.83,0.82,0.81,0.8,0.79,0.78,0.76,0.75,0.74,0.72,0.71,0.7,0.68,0.66,0.64,0.6],
 [0.86,0.86,0.85,0.85,0.84,0.84,0.84,0.83,0.82,0.8,0.79,0.78,0.77,0.75,0.74,0.73,0.71,0.7,0.68,0.66,0.62],
 [0.86,0.86,0.86,0.86,0.86,0.85,0.85,0.84,0.83,0.82,0.81,0.8,0.78,0.77,0.76,0.75,0.73,0.72,0.7,0.68,0.64],
 [0.87,0.87,0.87,0.87,0.87,0.86,0.86,0.85,0.84,0.83,0.82,0.81,0.8,0.79,0.78,0.77,0.75,0.74,0.72,0.7,0.67],
 [0.87,0.88,0.88,0.88,0.88,0.87,0.87,0.86,0.85,0.85,0.84,0.83,0.82,0.81,0.8,0.79,0.78,0.77,0.75,0.73,0.7],
 [0.87,0.88,0.88,0.88,0.88,0.88,0.87,0.87,0.86,0.86,0.85,0.84,0.84,0.83,0.82,0.81,0.8,0.79,0.78,0.76,0.73],
 [0.86,0.87,0.87,0.88,0.87,0.88,0.88,0.88,0.87,0.87,0.86,0.86,0.85,0.85,0.84,0.84,0.83,0.82,0.81,0.8,0.77]
];

// ---------- STYLE ----------
const plasmaHex = ['#0d0887','#46039f','#7201a8','#9c179e','#bd3786','#d8576b','#ed7953','#fb9f3a','#fdca26','#f0f921'];
const FONT = 'DejaVu Sans';
const TXT = '#263238';
const EDGE = '#b0bec5';
const POINT_ALPHA = 0.5, CORE_ALPHA = 0.86, HALO_ALPHA = 0.28;

function hexRGB(h){const v=parseInt(h.slice(1),16);return [(v>>16)&255,(v>>8)&255,v&255];}
function plasmaRGB(z){
  let t=(z-engMin)/(engMax-engMin); t=Math.max(0,Math.min(1,t));
  const s=t*(plasmaHex.length-1); const i=Math.min(Math.floor(s),plasmaHex.length-2); const f=s-i;
  const a=hexRGB(plasmaHex[i]), b=hexRGB(plasmaHex[i+1]);
  return a.map((v,k)=>v+(b[k]-v)*f);
}
function onWhite(rgb,a){return 'rgb('+rgb.map(v=>Math.round(v*a+255*(1-a))).join(',')+')';}
const alphaScale = plasmaHex.map((c,i)=>{const r=hexRGB(c);return [i/(plasmaHex.length-1),'rgba('+r.join(',')+','+POINT_ALPHA+')'];});

const G0 = 0.58, G1 = 1.0;
function bandTraces(left, right, alpha){
  const out=[];
  for(let k=0;k<massRet.length-1;k++){
    if(left[k]===null || right[k]===null || left[k+1]===null || right[k+1]===null) continue;
    const y0=massRet[k]-0.0012, y1=massRet[k+1]+0.0012;
    const row=fieldEng[k];
    const stops=[[0,onWhite(plasmaRGB(row[0]),alpha)]];
    fieldVis.forEach((x,j)=>stops.push([(x-G0)/(G1-G0),onWhite(plasmaRGB(row[j]),alpha)]));
    stops.push([1,onWhite(plasmaRGB(row[row.length-1]),alpha)]);
    out.push({type:'scatter', mode:'lines', fill:'toself',
      x:[left[k],right[k],right[k+1],left[k+1],left[k]],
      y:[y0,y0,y1,y1,y0],
      line:{width:0, color:'rgba(0,0,0,0)'},
      fillcolor:onWhite(plasmaRGB(row[10]),alpha),
      fillgradient:{type:'horizontal', start:G0, stop:G1, colorscale:stops},
      hoverinfo:'skip', showlegend:false});
  }
  return out;
}

const allPts = [].concat(farLeftPts, upperFringePts, midLowerPts, lowerFringePts, edgeBandPts, densePts, speckleTopPts, speckleLowPts);

const pointTrace = {
  type:'scatter', mode:'markers',
  x:allPts.map(p=>p[0]), y:allPts.map(p=>p[1]),
  marker:{
    color:allPts.map(p=>p[2]), colorscale:alphaScale, cmin:engMin, cmax:engMax,
    size:15, line:{width:0},
    showscale:true,
    colorbar:{
      x:1.0635, xanchor:'left', y:0.5, yanchor:'middle', len:1, lenmode:'fraction',
      thickness:91, thicknessmode:'pixels', xpad:0, ypad:0,
      outlinewidth:5, outlinecolor:EDGE,
      ticks:'outside', ticklen:18, tickwidth:4, tickcolor:TXT,
      tickvals:cbTicks, ticktext:cbTickText, tickfont:{family:FONT, size:46, color:TXT}
    }
  },
  hoverinfo:'skip', showlegend:false
};

const layout = {
  width:2867, height:2124,
  margin:{l:207, r:439, t:82, b:175, pad:0},
  paper_bgcolor:'#ffffff', plot_bgcolor:'#ffffff',
  font:{family:FONT, color:TXT},
  showlegend:false,
  title:{text:'<b>'+titleText+'</b>', x:0.5, xref:'paper', xanchor:'center', y:1-40/2124, yref:'container', yanchor:'middle',
         font:{family:FONT, size:54, color:TXT}},
  xaxis:{range:[0.0857,1.044], tickvals:xTicks, ticktext:xTickText, showgrid:true, gridcolor:'#e9edef', gridwidth:2,
         zeroline:false, showline:true, mirror:true, linecolor:EDGE, linewidth:5, ticks:'', automargin:false,
         ticklabelstandoff:20, tickfont:{family:FONT, size:46, color:TXT},
         title:{text:xTitle, font:{family:FONT, size:54, color:TXT}, standoff:20}},
  yaxis:{range:[-0.0183,0.6037], tickvals:yTicks, ticktext:yTickText, showgrid:true, gridcolor:'#e9edef', gridwidth:2,
         zeroline:false, showline:true, mirror:true, linecolor:EDGE, linewidth:5, ticks:'', automargin:false,
         ticklabelstandoff:7, tickfont:{family:FONT, size:46, color:TXT},
         title:{text:yTitle, font:{family:FONT, size:54, color:TXT}, standoff:29}},
  shapes:[
    {type:'line', xref:'x', yref:'paper', x0:visThreshold, x1:visThreshold, y0:0, y1:1,
     line:{color:'#8d9ea5', width:6, dash:'24px,11px'}},
    {type:'line', xref:'paper', yref:'y', x0:0, x1:1, y0:retThreshold, y1:retThreshold,
     line:{color:'#8d9ea5', width:6, dash:'24px,11px'}}
  ],
  annotations:[
    {x:0.1335, y:0.5647, xref:'x', yref:'y', text:noteLeft, showarrow:false, xanchor:'left', yanchor:'middle',
     font:{family:FONT, size:37, color:TXT}},
    {x:0.776, y:0.5647, xref:'x', yref:'y', text:noteRight, showarrow:false, xanchor:'left', yanchor:'middle',
     font:{family:FONT, size:37, color:TXT}},
    {x:1.1756, y:0.5, xref:'paper', yref:'paper', text:cbTitle, showarrow:false, textangle:-90,
     xanchor:'center', yanchor:'middle', font:{family:FONT, size:54, color:TXT}}
  ]
};

const traces = [].concat(bandTraces(haloLeft, haloRight, HALO_ALPHA), bandTraces(coreLeft, coreRight, CORE_ALPHA), [pointTrace]);
Plotly.newPlot('chart', traces, layout, {staticPlot:true, displayModeBar:false});
</script>
</body></html>
